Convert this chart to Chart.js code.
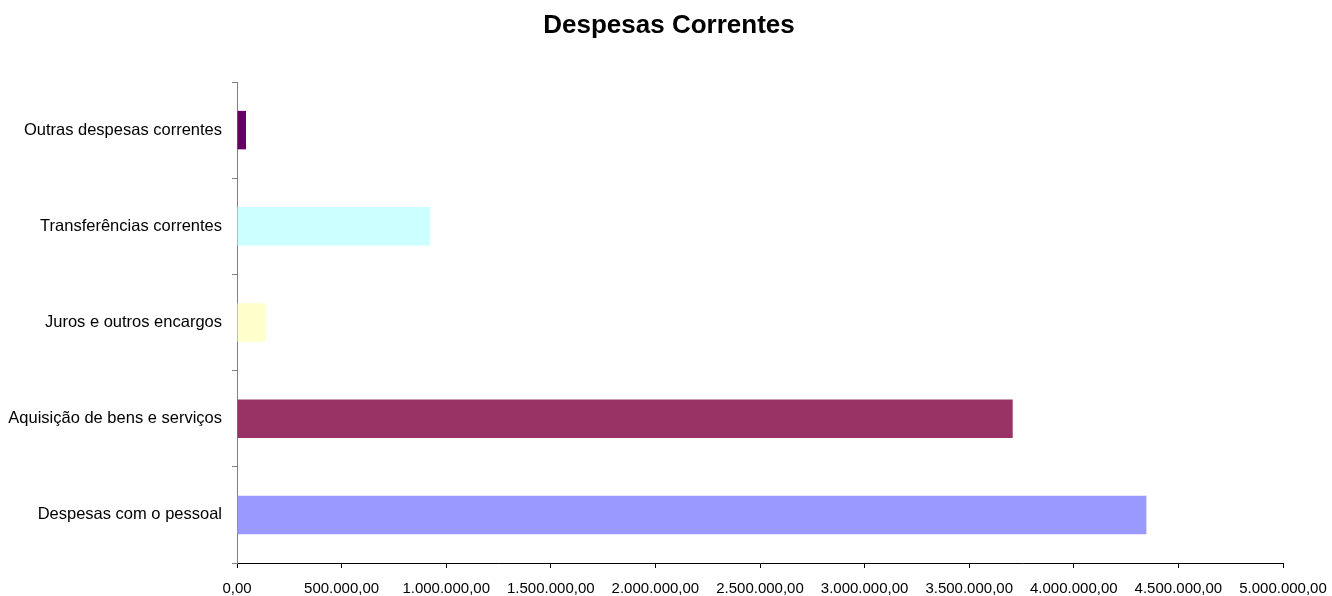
<!DOCTYPE html>
<html>
<head>
<meta charset="utf-8">
<script src="https://cdn.jsdelivr.net/npm/chart.js@4"></script>
<style>
html,body{margin:0;padding:0;background:#fff;}
#wrap{width:1332px;height:596px;position:relative;}
</style>
</head>
<body>
<div id="wrap"><canvas id="c" width="1332" height="596"></canvas></div>
<script>
const chartTitle = "Despesas Correntes";
const categories = [
  "Outras despesas correntes",
  "Transferências correntes",
  "Juros e outros encargos",
  "Aquisição de bens e serviços",
  "Despesas com o pessoal"
];
const values = [43000, 922000, 137000, 3708000, 4347000];
const barColors = ["#660066", "#CCFFFF", "#FFFFCC", "#993366", "#9999FF"];
const xMin = 0, xMax = 5000000, xStep = 500000;

function fmtPt(v) {
  const fixed = Math.abs(v).toFixed(2);
  const [ip, dp] = fixed.split(".");
  const withDots = ip.replace(/\B(?=(\d{3})+(?!\d))/g, ".");
  return (v < 0 ? "-" : "") + withDots + "," + dp;
}

const FONT = "'Liberation Sans', Arial, Helvetica, sans-serif";

const titlePlugin = {
  id: "centeredTitle",
  afterDraw(chart) {
    const ctx = chart.ctx;
    ctx.save();
    ctx.font = "bold 26px " + FONT;
    ctx.fillStyle = "#000";
    ctx.textAlign = "center";
    ctx.textBaseline = "middle";
    ctx.fillText(chartTitle, 669, 26);
    ctx.restore();
  }
};

new Chart(document.getElementById("c"), {
  type: "bar",
  data: {
    labels: categories,
    datasets: [{
      data: values,
      backgroundColor: barColors,
      borderWidth: 0,
      barPercentage: 0.4,
      categoryPercentage: 1.0
    }]
  },
  plugins: [titlePlugin],
  options: {
    indexAxis: "y",
    responsive: false,
    animation: false,
    devicePixelRatio: 1,
    layout: { padding: { left: 0, right: 49, top: 82, bottom: 0 } },
    plugins: {
      legend: { display: false },
      tooltip: { enabled: false },
      title: { display: false }
    },
    scales: {
      x: {
        min: xMin,
        max: xMax,
        afterFit: (s) => { s.height = 33; s.paddingRight = 40; s.paddingLeft = 0; },
        ticks: {
          stepSize: xStep,
          color: "#000",
          font: { family: FONT, size: 15 },
          padding: 12,
          maxRotation: 0,
          autoSkip: false,
          callback: (v) => fmtPt(v)
        },
        grid: {
          drawOnChartArea: false,
          drawTicks: true,
          tickLength: 5,
          color: "#000"
        },
        border: { display: true, color: "#000", width: 1 }
      },
      y: {
        offset: true,
        afterFit: (s) => { s.width = 237; },
        ticks: {
          color: "#000",
          font: { family: FONT, size: 16.5 },
          padding: 10
        },
        grid: {
          offset: true,
          drawOnChartArea: false,
          drawTicks: true,
          tickLength: 5,
          color: "#808080"
        },
        border: { display: true, color: "#808080", width: 1 }
      }
    }
  }
});
</script>
</body>
</html>
